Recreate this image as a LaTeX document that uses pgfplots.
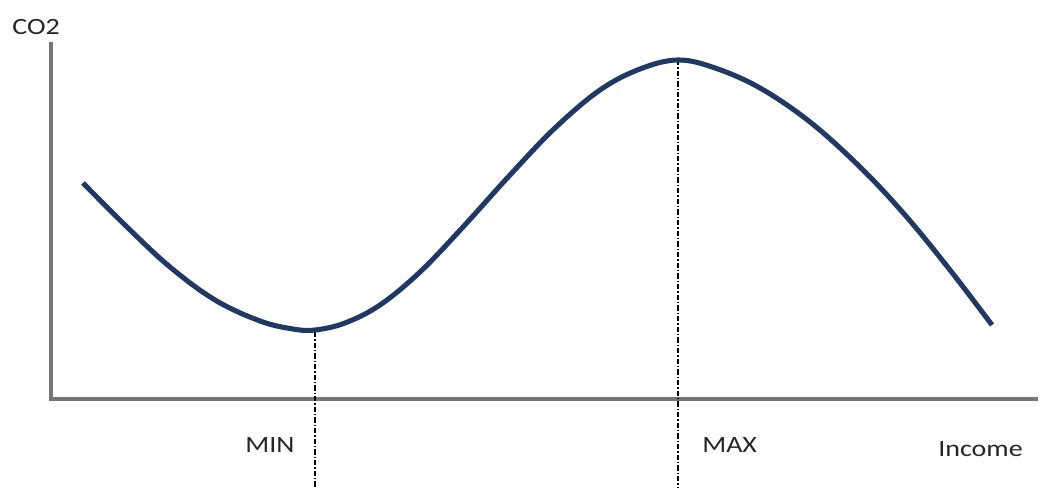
\documentclass[border=0pt]{standalone}
\usepackage{pgfplots}
\pgfplotsset{compat=1.18}
\usepackage{fontspec}
\setmainfont{Carlito}
\definecolor{curve}{HTML}{203864}
\definecolor{axgray}{HTML}{767676}
\begin{document}
\begin{tikzpicture}
\begin{axis}[
  scale only axis, width=781.5pt, height=365.25pt,
  xmin=0, xmax=1042, ymin=0, ymax=487,
  axis line style={draw=none}, ticks=none, clip=false,
]
% axes (pixel coordinates, y up)
\addplot[axgray, line width=2.4pt, line cap=rect] coordinates {(51,443) (51,88) (1036,88)};
% guide lines
\addplot[black, line width=1.1pt, dash pattern=on 4pt off 1.5pt on 1pt off 1.5pt] coordinates {(315,155) (315,0)};
\addplot[black, line width=1.1pt, dash pattern=on 4pt off 1.5pt on 1pt off 1.5pt] coordinates {(678,427) (678,0)};
% curve
\addplot[curve, line width=3.8pt, smooth, tension=0.6] coordinates {
(83,304) (127,260) (170,220) (215,187) (260,166) (293,158) (315,157)
(345,164) (380,182) (420,215) (463,260) (510,312) (555,359) (600,397)
(640,418) (678,427) (715,419) (760,399) (810,365) (860,320) (905,272)
(950,217) (992,162)};
% labels
\node[anchor=base west, inner sep=0, xscale=1.2, font=\fontsize{17.5}{19}\selectfont, text=black!85] at (axis cs:12,452) {CO2};
\node[anchor=base west, inner sep=0, xscale=1.2, font=\fontsize{17.5}{19}\selectfont, text=black!85] at (axis cs:245,34) {MIN};
\node[anchor=base west, inner sep=0, xscale=1.2, font=\fontsize{17.5}{19}\selectfont, text=black!85] at (axis cs:702,34) {MAX};
\node[anchor=base west, inner sep=0, xscale=1.2, font=\fontsize{17.5}{19}\selectfont, text=black!85] at (axis cs:938,30) {Income};
\end{axis}
\end{tikzpicture}
\end{document}
